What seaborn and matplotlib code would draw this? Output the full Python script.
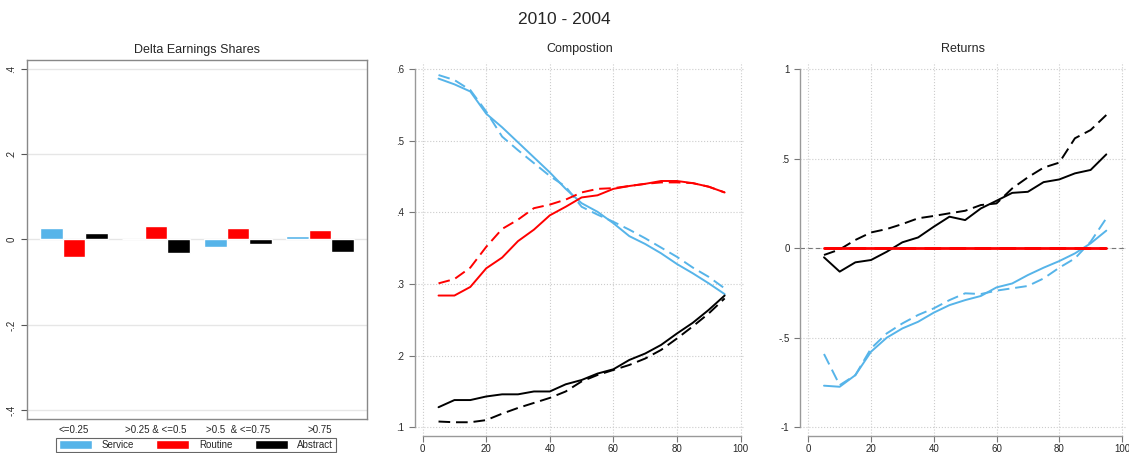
import numpy as np
import pandas as pd
import matplotlib
matplotlib.use("Agg")
import matplotlib.pyplot as plt
import seaborn as sns

# data
groups = ["<=0.25", ">0.25 & <=0.5", ">0.5  & <=0.75", ">0.75"]
types = ["Service", "Routine", "Abstract"]
delta_service = [0.027, 0.002, -0.017, 0.008]
delta_routine = [-0.041, 0.031, 0.027, 0.022]
delta_abstract = [0.015, -0.031, -0.010, -0.029]

pct = [5, 10, 15, 20, 25, 30, 35, 40, 45, 50, 55, 60, 65, 70, 75, 80, 85, 90, 95]

comp_service_2010 = [0.587, 0.579, 0.569, 0.538, 0.519, 0.498, 0.477, 0.456, 0.433, 0.413,
                     0.401, 0.385, 0.367, 0.356, 0.343, 0.328, 0.315, 0.301, 0.286]
comp_service_2004 = [0.592, 0.585, 0.571, 0.541, 0.506, 0.487, 0.469, 0.451, 0.436, 0.408,
                     0.397, 0.387, 0.376, 0.364, 0.351, 0.338, 0.323, 0.310, 0.294]
comp_routine_2010 = [0.284, 0.284, 0.296, 0.322, 0.337, 0.360, 0.376, 0.396, 0.408, 0.421,
                     0.424, 0.433, 0.437, 0.440, 0.444, 0.444, 0.441, 0.436, 0.428]
comp_routine_2004 = [0.301, 0.307, 0.323, 0.352, 0.377, 0.390, 0.406, 0.411, 0.418, 0.428,
                     0.433, 0.434, 0.437, 0.440, 0.442, 0.442, 0.441, 0.436, 0.428]
comp_abstract_2010 = [0.128, 0.138, 0.138, 0.143, 0.146, 0.146, 0.150, 0.150, 0.160, 0.166,
                      0.175, 0.181, 0.194, 0.203, 0.215, 0.231, 0.246, 0.264, 0.284]
comp_abstract_2004 = [0.108, 0.107, 0.107, 0.110, 0.119, 0.127, 0.134, 0.141, 0.150, 0.164,
                      0.173, 0.180, 0.187, 0.196, 0.208, 0.224, 0.241, 0.259, 0.280]

ret_service_2010 = [-0.767, -0.773, -0.708, -0.577, -0.499, -0.447, -0.410, -0.359, -0.317, -0.289,
                    -0.266, -0.218, -0.196, -0.149, -0.108, -0.071, -0.028, 0.028, 0.099]
ret_service_2004 = [-0.590, -0.764, -0.708, -0.559, -0.475, -0.419, -0.372, -0.335, -0.289, -0.251,
                    -0.255, -0.236, -0.223, -0.210, -0.168, -0.108, -0.056, 0.037, 0.168]
ret_routine_2010 = [0.0] * 19
ret_routine_2004 = [0.0] * 19
ret_abstract_2010 = [-0.050, -0.130, -0.078, -0.065, -0.019, 0.034, 0.061, 0.121, 0.177, 0.158,
                     0.223, 0.266, 0.310, 0.316, 0.370, 0.385, 0.419, 0.438, 0.525]
ret_abstract_2004 = [-0.037, -0.006, 0.047, 0.089, 0.108, 0.136, 0.168, 0.181, 0.196, 0.210,
                     0.242, 0.251, 0.335, 0.397, 0.451, 0.479, 0.615, 0.661, 0.745]

colors = {"Service": "#56b4e9", "Routine": "#ff0000", "Abstract": "#000000"}

sns.set_style("white")
plt.rcParams["font.family"] = ["Liberation Sans", "DejaVu Sans"]

# long tables
bars = pd.DataFrame({
    "group": groups * 3,
    "type": ["Service"] * 4 + ["Routine"] * 4 + ["Abstract"] * 4,
    "value": delta_service + delta_routine + delta_abstract,
})


def long_lines(s10, s04, r10, r04, a10, a04):
    parts = []
    for t, y10, y04 in [("Service", s10, s04), ("Routine", r10, r04), ("Abstract", a10, a04)]:
        parts.append(pd.DataFrame({"pct": pct, "value": y10, "type": t, "year": "2010"}))
        parts.append(pd.DataFrame({"pct": pct, "value": y04, "type": t, "year": "2004"}))
    return pd.concat(parts, ignore_index=True)


comp = long_lines(comp_service_2010, comp_service_2004, comp_routine_2010,
                  comp_routine_2004, comp_abstract_2010, comp_abstract_2004)
ret = long_lines(ret_service_2010, ret_service_2004, ret_routine_2010,
                 ret_routine_2004, ret_abstract_2010, ret_abstract_2004)

W, H = 1129, 453
fig = plt.figure(figsize=(W / 100, H / 100), dpi=100)


def px_axes(x0, y0, x1, y1):
    return fig.add_axes([x0 / W, 1 - y1 / H, (x1 - x0) / W, (y1 - y0) / H])


fig.suptitle("2010 - 2004", y=1 - 20 / H, va="center", fontsize=12.5)

# panel 1 - bars
ax1 = px_axes(27, 60, 367, 419)
sns.barplot(data=bars, x="group", y="value", hue="type", order=groups, hue_order=types,
            palette=colors, width=0.82, ax=ax1, saturation=1)
ax1.set_xlim(-0.573, 3.573)
ax1.set_ylim(-0.42, 0.42)
ax1.set_yticks([-0.4, -0.2, 0, 0.2, 0.4])
ax1.set_yticklabels(["-.4", "-.2", "0", ".2", ".4"], rotation=90, va="center")
ax1.yaxis.grid(True, color="#e6e6e6", lw=1)
ax1.set_axisbelow(True)
ax1.set_xlabel("")
ax1.set_ylabel("")
ax1.set_title("Delta Earnings Shares", fontsize=9, pad=5)
ax1.tick_params(axis="x", length=0, labelsize=7, pad=4)
ax1.tick_params(axis="y", length=4, width=0.8, color="#555555", labelsize=7, left=True)
for sp in ax1.spines.values():
    sp.set_color("#888888")
    sp.set_linewidth(1)
ax1.legend(loc="center", bbox_to_anchor=(196 / W, 1 - 445 / H), bbox_transform=fig.transFigure,
           ncol=3, frameon=True, fancybox=False, edgecolor="#666666", fontsize=7,
           handlelength=3.4, handleheight=1.0, columnspacing=2.3, borderpad=0.25,
           handletextpad=1.0, framealpha=1)
ax1.get_legend().get_frame().set_linewidth(0.8)

dash_map = {"2010": "", "2004": (6, 3)}


def line_panel(ax, df, ylim, yticks, ylabels, xlim, title):
    ax.grid(True, color="#cccccc", ls=":", lw=0.8)
    ax.set_axisbelow(True)
    sns.lineplot(data=df, x="pct", y="value", hue="type", style="year", hue_order=types,
                 style_order=["2010", "2004"], palette=colors, dashes=dash_map,
                 lw=1.4, legend=False, ax=ax, estimator=None, sort=False)
    ax.set_xlim(*xlim)
    ax.set_ylim(*ylim)
    ax.set_xticks([0, 20, 40, 60, 80, 100])
    ax.set_yticks(yticks)
    ax.set_yticklabels(ylabels)
    ax.set_xlabel("")
    ax.set_ylabel("")
    ax.set_title(title, fontsize=9, pad=7)
    ax.spines["top"].set_visible(False)
    ax.spines["right"].set_visible(False)
    ax.spines["left"].set_bounds(yticks[0], yticks[-1])
    ax.spines["bottom"].set_bounds(0, 100)
    for s in ("left", "bottom"):
        ax.spines[s].set_color("#999999")
        ax.spines[s].set_linewidth(1)
    ax.tick_params(length=4, width=0.8, color="#777777", labelsize=7, left=True, bottom=True)
    ax.tick_params(axis="x", pad=2)


# panel 2 - composition
ax2 = px_axes(415, 62, 745, 436)
line_panel(ax2, comp, (0.0878, 0.6102), [0.1, 0.2, 0.3, 0.4, 0.5, 0.6],
           [".1", ".2", ".3", ".4", ".5", ".6"], (-2.4, 101.4), "Compostion")

# panel 3 - returns
ax3 = px_axes(800, 62, 1127, 436)
ax3.axhline(0, color="#777777", ls=(0, (4, 3)), lw=0.8, zorder=1)
line_panel(ax3, ret, (-1.048, 1.041), [-1, -0.5, 0, 0.5, 1],
           ["-1", "-.5", "0", ".5", "1"], (-2.65, 101.6), "Returns")
for ln in ax3.get_lines():
    if matplotlib.colors.to_hex(ln.get_color()) == "#ff0000":
        ln.set_linewidth(2)
        ln.set_zorder(3)

fig.savefig("out.png", dpi=100)
